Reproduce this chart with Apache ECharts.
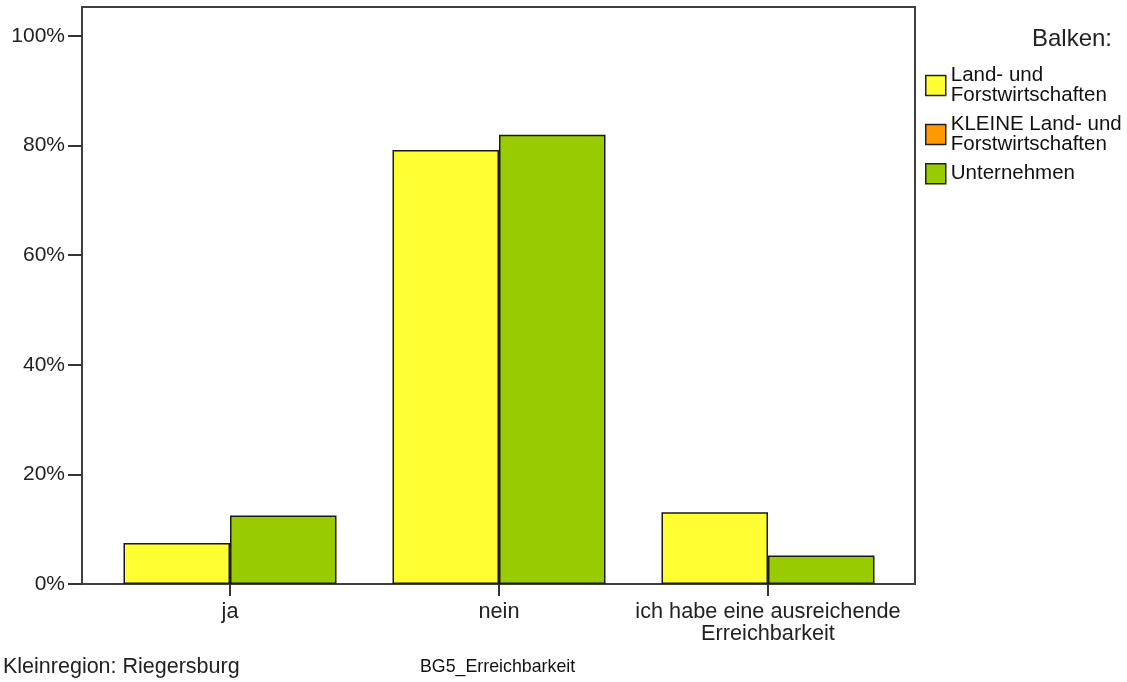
<!DOCTYPE html>
<html>
<head>
<meta charset="utf-8">
<script src="https://cdn.jsdelivr.net/npm/echarts@6/dist/echarts.min.js"></script>
<style>
html,body{margin:0;padding:0;background:#fff;}
#c{width:1127px;height:682px;}
</style>
</head>
<body>
<div id="c"></div>
<script>
var categories = ['ja', 'nein', 'ich habe eine ausreichende\nErreichbarkeit'];
var landForst = [7.5, 79.2, 13.1];
var kleineLandForst = [];
var unternehmen = [12.5, 82.0, 5.2];
var yTicks = [0, 20, 40, 60, 80, 100];
var seriesNames = ['Land- und\nForstwirtschaften', 'KLEINE Land- und\nForstwirtschaften', 'Unternehmen'];

var FONT = "'Liberation Sans', Arial, sans-serif";
var chart = echarts.init(document.getElementById('c'), null, {renderer: 'canvas'});
chart.setOption({
  animation: false,
  backgroundColor: '#ffffff',
  textStyle: {fontFamily: FONT},
  title: [{
    text: 'Balken:', right: 10, top: 22,
    textStyle: {fontFamily: FONT, fontSize: 24, fontWeight: 'normal', color: '#222'}
  }],
  legend: {
    orient: 'vertical', left: 920, top: 60,
    icon: 'rect', itemWidth: 20, itemHeight: 20, itemGap: 8,
    itemStyle: {borderColor: '#222', borderWidth: 1.5},
    textStyle: {fontFamily: FONT, fontSize: 20.5, lineHeight: 20, color: '#111'},
    data: seriesNames
  },
  grid: [
    {left: 82, right: 212, top: 7, bottom: 98, show: true, borderColor: '#404040', borderWidth: 2, backgroundColor: 'transparent'},
    {left: 95.5, right: 224.5, top: 7, bottom: 98, show: false}
  ],
  xAxis: [
    {type: 'category', gridIndex: 0, data: categories, show: false},
    {type: 'category', gridIndex: 1, data: categories,
     axisLine: {show: false},
     axisTick: {show: true, alignWithLabel: true, length: 12, lineStyle: {color: '#333', width: 2}},
     axisLabel: {fontFamily: FONT, fontSize: 21.7, lineHeight: 22, margin: 17, color: '#222', interval: 0}
    }
  ],
  yAxis: [
    {type: 'value', gridIndex: 0, min: 0, max: 105.3, interval: 20,
     axisLine: {show: false},
     splitLine: {show: false},
     axisTick: {show: true, length: 14, lineStyle: {color: '#333', width: 2}, customValues: yTicks},
     axisLabel: {formatter: '{value}%', fontFamily: FONT, fontSize: 21, margin: 17, color: '#222', customValues: yTicks}
    },
    {type: 'value', gridIndex: 1, min: 0, max: 105.3, interval: 20, show: false, splitLine: {show: false}}
  ],
  graphic: [
    {type: 'text', left: 3, top: 656, style: {text: 'Kleinregion: Riegersburg', font: '21.5px ' + FONT, fill: '#222'}},
    {type: 'text', left: 420, top: 658, style: {text: 'BG5_Erreichbarkeit', font: '17.8px ' + FONT, fill: '#111'}}
  ],
  series: [
    {name: seriesNames[0], type: 'bar', xAxisIndex: 1, yAxisIndex: 1, data: landForst,
     barWidth: 106.5, barGap: '0%',
     itemStyle: {color: '#ffff33', borderColor: '#1a1a1a', borderWidth: 1.5}},
    {name: seriesNames[1], type: 'bar', xAxisIndex: 0, yAxisIndex: 0, data: kleineLandForst,
     itemStyle: {color: '#ff9900', borderColor: '#1a1a1a', borderWidth: 1.5}},
    {name: seriesNames[2], type: 'bar', xAxisIndex: 1, yAxisIndex: 1, data: unternehmen,
     barWidth: 106.5, barGap: '0%',
     itemStyle: {color: '#99cc00', borderColor: '#1a1a1a', borderWidth: 1.5}}
  ]
});
</script>
</body>
</html>
